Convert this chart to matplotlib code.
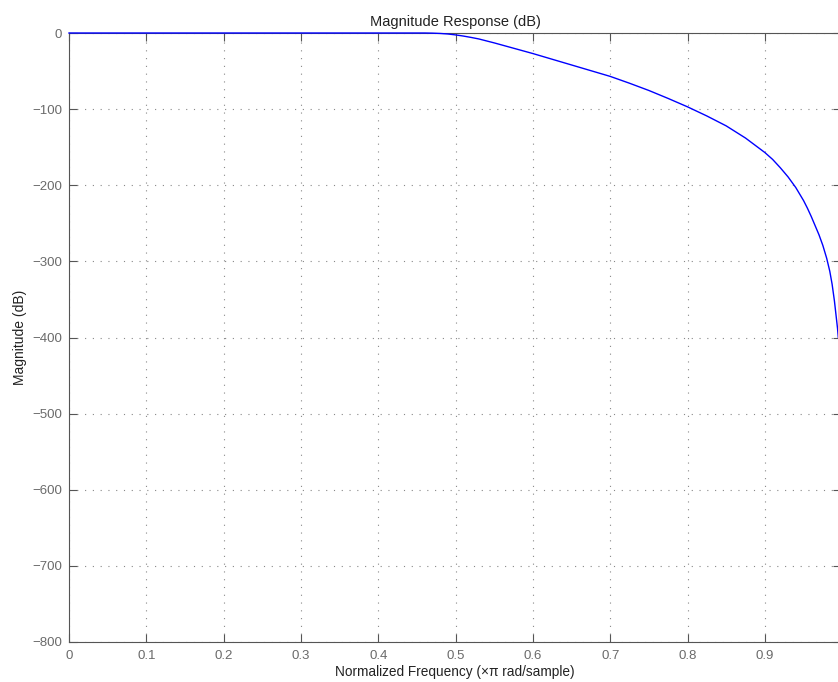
import matplotlib
matplotlib.use("Agg")
import matplotlib.pyplot as plt

# values
freq = [0.0, 0.1, 0.2, 0.3, 0.4, 0.45, 0.46, 0.47, 0.48, 0.49, 0.5, 0.51, 0.52, 0.53,
        0.55, 0.575, 0.6, 0.625, 0.65, 0.675, 0.7, 0.725, 0.75, 0.775, 0.8, 0.825,
        0.85, 0.875, 0.9, 0.91, 0.92, 0.93, 0.94, 0.95, 0.955, 0.96, 0.965, 0.97,
        0.975, 0.98, 0.984, 0.987, 0.99, 0.992, 0.994, 0.995]
mag_db = [0, 0, 0, 0, 0, 0, 0, -0.2, -0.6, -1.3, -2.5, -4, -5.8, -7.8,
          -13, -20, -27, -34.5, -42, -49.5, -57, -66, -75.5, -86, -97, -109,
          -122, -138, -157, -166, -177, -189, -203, -220, -230, -241, -253, -265,
          -279, -296, -313, -330, -352, -370, -388, -400]

x_ticks = [0, 0.1, 0.2, 0.3, 0.4, 0.5, 0.6, 0.7, 0.8, 0.9]
y_ticks = [0, -100, -200, -300, -400, -500, -600, -700, -800]

plt.rcParams['font.family'] = ['Liberation Sans', 'DejaVu Sans']

fig = plt.figure(figsize=(8.38, 6.82), dpi=100)
ax = fig.add_axes([69 / 838, 1 - 642 / 682, (841 - 69) / 838, 609 / 682])

ax.plot(freq, mag_db, color='#0000ff', linewidth=1.0, clip_on=False, zorder=5)

ax.set_xlim(0, 0.9985)
ax.set_ylim(-800, 0)
ax.set_xticks(x_ticks)
ax.set_xticklabels([f"{t:g}" for t in x_ticks])
ax.set_yticks(y_ticks)
ax.set_yticklabels([f"\u2212{-t}" if t < 0 else "0" for t in y_ticks])

gray = '#555555'
for s in ax.spines.values():
    s.set_color(gray)
    s.set_linewidth(0.8)
ax.tick_params(direction='in', top=True, right=True, length=6, width=0.8,
               colors=gray, labelsize=9.5, labelcolor='#6a6a6a')
ax.tick_params(axis='x', pad=6)
ax.tick_params(axis='y', pad=5)
ax.grid(True, linestyle=(0, (1, 6)), color='#888888', linewidth=0.8)

ax.set_title("Magnitude Response (dB)", fontsize=10.5, color='#222222', pad=5)
ax.set_xlabel("Normalized Frequency (\u00d7\u03c0 rad/sample)", fontsize=9.8, color='#222222', labelpad=2)
ax.set_ylabel("Magnitude (dB)", fontsize=10, color='#222222', labelpad=4)

fig.savefig("out.png", dpi=100)
